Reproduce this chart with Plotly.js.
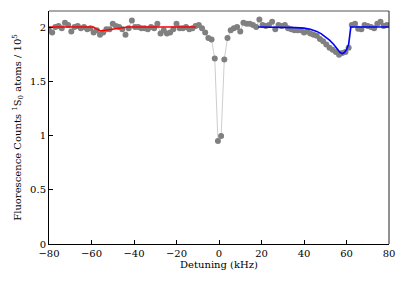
<!DOCTYPE html>
<html>
<head>
<meta charset="utf-8">
<script src="https://cdn.plot.ly/plotly-3.0.1.min.js"></script>
<style>html,body{margin:0;padding:0;background:#fff;}#plot{width:407px;height:285px;}</style>
</head>
<body>
<div id="plot"></div>
<script>
// Measured data (detuning in kHz, counts in units of 1e5)
const detuning = [-80,-78.5,-77,-75.5,-74,-72.5,-71,-69.5,-68,-66.5,-65,-63.5,-62,-60.5,-59,-57.5,-56,-54.5,-53,-51.5,-50,-48.5,-47,-45.5,-44,-42.5,-41,-39.5,-38,-36.5,-35,-33.5,-32,-30.5,-29,-27.5,-26,-24.5,-23,-21.5,-20,-18.5,-17,-15.5,-14,-12.5,-11,-9.5,-8,-6.5,-5,-3.5,-2,-0.5,1,2.5,4,5.5,7,8.5,10,11.5,13,14.5,16,17.5,19,20.5,22,23.5,25,26.5,28,29.5,31,32.5,34,35.5,37,38.5,40,41.5,43,44.5,46,47.5,49,50.5,52,53.5,55,56.5,58,59.5,61,62.5,64,65.5,67,68.5,70,71.5,73,74.5,76,77.5,79];
const counts = [1.97,1.95,2.0,2.01,1.99,2.04,2.02,1.96,2.0,2.01,1.99,2.0,1.98,1.99,1.95,1.97,1.93,1.95,1.98,1.98,2.03,2.01,2.0,1.98,1.93,1.99,2.06,2.0,2.0,1.99,1.99,1.98,2.0,1.99,2.03,1.94,1.97,1.94,1.95,1.98,2.03,1.99,1.99,2.0,1.98,1.99,2.01,2.02,1.99,1.95,1.90,1.885,1.71,0.95,0.995,1.70,1.90,1.97,1.99,2.0,1.96,2.04,2.03,2.03,2.02,2.0,2.07,2.02,2.01,2.02,2.05,1.98,2.02,2.01,2.02,1.99,1.98,1.97,1.97,1.97,1.95,1.96,1.94,1.93,1.92,1.89,1.87,1.84,1.81,1.79,1.77,1.745,1.76,1.77,1.81,2.02,2.03,1.985,1.98,2.02,2.01,2.0,1.99,2.03,2.05,2.01,2.02];

// Fit curves
const redX = [-80,-59,-58,-57,-56,-55,-53,-51,-49,-47,-45,-43,-11];
const redY = [2.0,2.0,1.985,1.972,1.966,1.966,1.972,1.979,1.985,1.991,1.996,2.0,2.0];
const blueX = [18.5,30,36,40,43,46,48,50,52,54,55.5,57,58,59,60,61,61.5,62,62.5,80];
const blueY = [2.0,2.0,1.995,1.99,1.98,1.96,1.94,1.91,1.88,1.84,1.80,1.765,1.755,1.765,1.79,1.84,1.92,2.0,2.0,2.0];

const xTicks = [-80,-60,-40,-20,0,20,40,60,80];
const yTicks = [0,0.5,1,1.5,2];
const yTickText = ['0','0.5','1','1.5','2'];

const font = {family: 'DejaVu Serif', size: 10, color: '#000'};

const traces = [
  {x: detuning, y: counts, mode: 'lines+markers', type: 'scatter',
   line: {color: '#c0c0c0', width: 0.8},
   marker: {color: '#808080', size: 6}, hoverinfo: 'skip'},
  {x: redX, y: redY, mode: 'lines', type: 'scatter', line: {color: '#ff0000', width: 1.6}},
  {x: blueX, y: blueY, mode: 'lines', type: 'scatter', line: {color: '#0000ff', width: 1.6}}
];

const layout = {
  width: 407, height: 285,
  margin: {l: 49, r: 18, t: 11, b: 41, pad: 0},
  showlegend: false,
  paper_bgcolor: '#fff', plot_bgcolor: '#fff',
  font: font,
  xaxis: {range: [-80, 80], tickvals: xTicks, ticks: 'inside', ticklen: 4, tickwidth: 1, tickcolor: '#000',
          showgrid: false, zeroline: false, showline: true, linecolor: '#000', linewidth: 1,
          tickfont: {family: 'DejaVu Serif', size: 10, color: '#000'},
          title: {text: 'Detuning (kHz)', font: {family: 'DejaVu Serif', size: 10, color: '#000'}, standoff: 2}},
  yaxis: {range: [0, 2.148], tickvals: yTicks, ticktext: yTickText, ticks: 'inside', ticklen: 4, tickwidth: 1, tickcolor: '#000',
          showgrid: false, zeroline: false, showline: true, linecolor: '#000', linewidth: 1,
          tickfont: {family: 'DejaVu Serif', size: 10, color: '#000'},
          title: {text: 'Fluorescence Counts <sup>1</sup>S<sub>0</sub> atoms / 10<sup>5</sup>', font: {family: 'DejaVu Serif', size: 10, color: '#000'}, standoff: 6}},
  shapes: [
    {type: 'line', xref: 'paper', yref: 'paper', x0: 0, x1: 1, y0: 1, y1: 1, line: {color: '#555', width: 1}},
    {type: 'line', xref: 'paper', yref: 'paper', x0: 1, x1: 1, y0: 0, y1: 1, line: {color: '#222', width: 1}}
  ]
};

Plotly.newPlot('plot', traces, layout, {staticPlot: true, displayModeBar: false});
</script>
</body>
</html>
